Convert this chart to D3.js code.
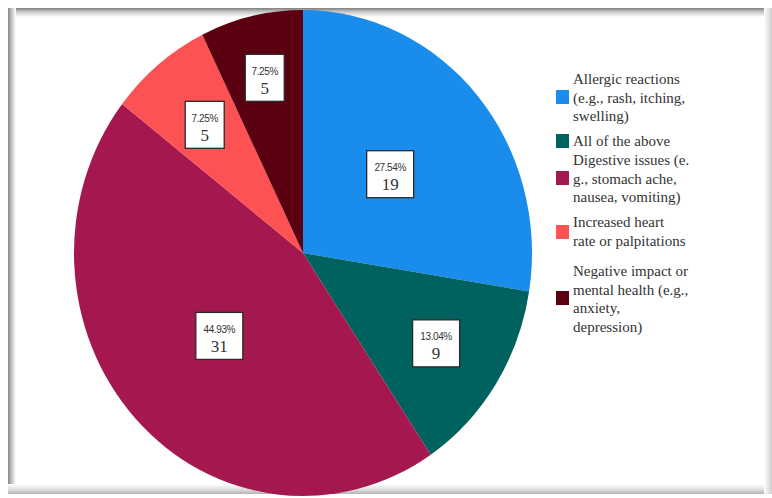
<!DOCTYPE html>
<html>
<head>
<meta charset="UTF-8" />
<title>pie</title>
<script src="https://d3js.org/d3.v7.min.js"></script>
<style>
  body { margin: 0; background: #fff; }
</style>
</head>
<body>
<svg id="chart" width="772" height="498"></svg>
<script>
// data
const categories = [
  "Allergic reactions (e.g., rash, itching, swelling)",
  "All of the above",
  "Digestive issues (e.g., stomach ache, nausea, vomiting)",
  "Increased heart rate or palpitations",
  "Negative impact on mental health (e.g., anxiety, depression)"
];
const counts = [19, 9, 31, 5, 5];
const percentLabels = ["27.54%", "13.04%", "44.93%", "7.25%", "7.25%"];
const legendLines = [
  ["Allergic reactions", "(e.g., rash, itching,", "swelling)"],
  ["All of the above"],
  ["Digestive issues (e.", "g., stomach ache,", "nausea, vomiting)"],
  ["Increased heart", "rate or palpitations"],
  ["Negative impact or", "mental health (e.g.,", "anxiety,", "depression)"]
];
const colors = ["#1a8ceb", "#00625e", "#a5174f", "#fd5253", "#5a0010"];

// layout bits
const labelR = [0.50, 0.69, 0.50, 0.68, 0.74];   // label box distance, fraction of radius
const legendTop = [79, 141, 160, 222, 271];
const swatchY = [97, 141, 178, 232, 298];

const svg = d3.select("#chart");
const W = 772, H = 498;

// frame with soft shadow edges
const defs = svg.append("defs");
function grad(id, x1, y1, x2, y2, stops) {
  const g = defs.append("linearGradient").attr("id", id)
    .attr("x1", x1).attr("y1", y1).attr("x2", x2).attr("y2", y2);
  stops.forEach(s => g.append("stop").attr("offset", s[0]).attr("stop-color", s[1]));
}
grad("gTop", 0, 0, 0, 1, [[0, "#7e7e7e"], [0.4, "#c4c4c4"], [1, "#ffffff"]]);
grad("gLeft", 0, 0, 1, 0, [[0, "#858585"], [0.5, "#c8c8c8"], [1, "#ffffff"]]);
grad("gBot", 0, 1, 0, 0, [[0, "#b4b4b4"], [0.5, "#e2e2e2"], [1, "#ffffff"]]);
grad("gRight", 1, 0, 0, 0, [[0, "#cfcfcf"], [1, "#ffffff"]]);

svg.append("rect").attr("x", 0).attr("y", 0).attr("width", W).attr("height", H).attr("fill", "#fff");
svg.append("rect").attr("x", 8).attr("y", 8).attr("width", 762).attr("height", 9).attr("fill", "url(#gTop)");
svg.append("rect").attr("x", 8).attr("y", 8).attr("width", 8).attr("height", 486).attr("fill", "url(#gLeft)");
svg.append("rect").attr("x", 8).attr("y", 484).attr("width", 762).attr("height", 10).attr("fill", "url(#gBot)");
svg.append("rect").attr("x", 764).attr("y", 8).attr("width", 8).attr("height", 486).attr("fill", "url(#gRight)");

// pie (slightly narrower than tall, as in the picture)
const cx = 303, cy = 253, R = 243, rx = 229;
const sx = rx / R;
const pie = d3.pie().sort(null).value(d => d)(counts);
const arc = d3.arc().innerRadius(0).outerRadius(R);

svg.append("g")
  .attr("transform", `translate(${cx},${cy}) scale(${sx},1)`)
  .selectAll("path.slice").data(pie).join("path")
  .attr("class", "slice")
  .attr("d", arc)
  .attr("fill", (d, i) => colors[i]);

// label boxes
const lab = svg.append("g").selectAll("g.lab").data(pie).join("g")
  .attr("class", "lab")
  .attr("transform", (d, i) => {
    const a = (d.startAngle + d.endAngle) / 2;
    const r = R * labelR[i];
    return `translate(${cx + sx * r * Math.sin(a)},${cy - r * Math.cos(a)})`;
  });

lab.each(function(d, i) {
  const sel = d3.select(this);
  const bw = percentLabels[i].length > 5 ? 47 : 39, bh = 47;
  sel.append("rect")
    .attr("x", -bw / 2).attr("y", -bh / 2)
    .attr("width", bw).attr("height", bh)
    .attr("fill", "#fff").attr("stroke", "#2a2a2a").attr("stroke-width", 1.3);
  sel.append("text")
    .attr("y", -3)
    .attr("text-anchor", "middle")
    .attr("font-family", "Liberation Sans, Arial, sans-serif")
    .attr("font-size", "10px")
    .attr("letter-spacing", "-0.4")
    .attr("fill", "#333")
    .text(percentLabels[i]);
  sel.append("text")
    .attr("y", 16)
    .attr("text-anchor", "middle")
    .attr("font-family", "Liberation Serif, Times New Roman, serif")
    .attr("font-size", "17px")
    .attr("fill", "#333")
    .text(counts[i]);
});

// legend
const leg = svg.append("g").attr("transform", "translate(556,0)");
const lineH = 18.5;
legendLines.forEach((lines, i) => {
  lines.forEach((t, j) => {
    leg.append("text")
      .attr("x", 17).attr("y", legendTop[i] + j * lineH)
      .attr("dy", "0.35em")
      .attr("font-family", "Liberation Serif, Times New Roman, serif")
      .attr("font-size", "15px")
      .attr("fill", "#333")
      .text(t);
  });
  leg.append("rect")
    .attr("x", 0).attr("y", swatchY[i] - 7)
    .attr("width", 13).attr("height", 14)
    .attr("fill", colors[i]);
});
</script>
</body>
</html>
